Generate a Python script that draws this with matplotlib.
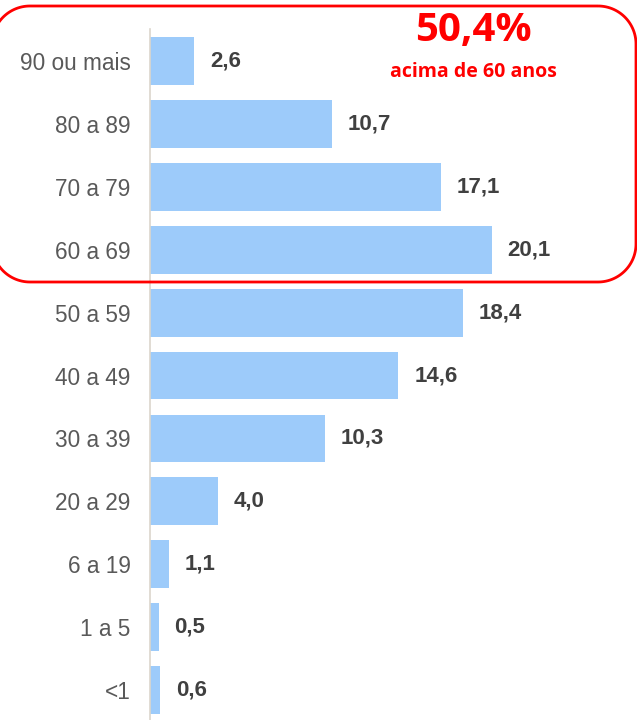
import numpy as np
import matplotlib.pyplot as plt
from matplotlib.patches import PathPatch
from matplotlib.path import Path

faixas = ['90 ou mais', '80 a 89', '70 a 79', '60 a 69', '50 a 59', '40 a 49',
          '30 a 39', '20 a 29', '6 a 19', '1 a 5', '<1']
percentuais = [2.6, 10.7, 17.1, 20.1, 18.4, 14.6, 10.3, 4.0, 1.1, 0.5, 0.6]
destaque = '50,4%'
destaque_sub = 'acima de 60 anos'

W, H = 637, 720
fig = plt.figure(figsize=(W / 100, H / 100), dpi=100)
plt.rcParams['font.family'] = ['Liberation Sans', 'DejaVu Sans']

# eixo das barras, 17 px por unidade
left, right = 150, 637
ax = fig.add_axes([left / W, 0, (right - left) / W, (H - 29) / H])
ax.set_xlim(0, (right - left) / 17.0)
ax.set_ylim(10.477, -0.509)

pos = list(range(len(faixas)))
ax.barh(pos, percentuais, height=0.76, color='#9DCBFA')
for p, v in zip(pos, percentuais):
    ax.text(v + 16 / 17.0, p, f'{v:.1f}'.replace('.', ','), va='center', ha='left',
            fontsize=16, fontweight='bold', color='#404040')

ax.set_yticks(pos)
ax.set_yticklabels(faixas, fontsize=16.3, color='#595959')
ax.tick_params(axis='y', length=0, pad=14)
ax.set_xticks([])
for s in ['top', 'right', 'bottom']:
    ax.spines[s].set_visible(False)
ax.spines['left'].set_color('#dcd6cc')
ax.spines['left'].set_linewidth(1.2)

# moldura vermelha arredondada (pixels, origem no topo)
ov = fig.add_axes([0, 0, 1, 1])
ov.set_xlim(0, W)
ov.set_ylim(H, 0)
ov.axis('off')
ov.patch.set_alpha(0)

x0, x1, y0, y1, r = -8, 636, 6, 282, 38
def arco(cx, cy, a0, a1):
    t = np.radians(np.linspace(a0, a1, 30))
    return np.column_stack([cx + r * np.cos(t), cy + r * np.sin(t)])
pts = np.vstack([arco(x1 - r, y0 + r, -90, 0), arco(x1 - r, y1 - r, 0, 90),
                 arco(x0 + r, y1 - r, 90, 180), arco(x0 + r, y0 + r, 180, 270)])
pts = np.vstack([pts, pts[:1]])
ov.add_patch(PathPatch(Path(pts), fill=False, edgecolor='#FF0000', linewidth=2))

ov.text(473, 31, destaque, ha='center', va='center', fontsize=29, fontweight='bold',
        color='#FF0000', family=['Open Sans', 'DejaVu Sans'])
ov.text(473, 72, destaque_sub, ha='center', va='center', fontsize=14, fontweight='bold',
        color='#FF0000', family=['Open Sans', 'DejaVu Sans'])

fig.savefig('out.png', dpi=100)
